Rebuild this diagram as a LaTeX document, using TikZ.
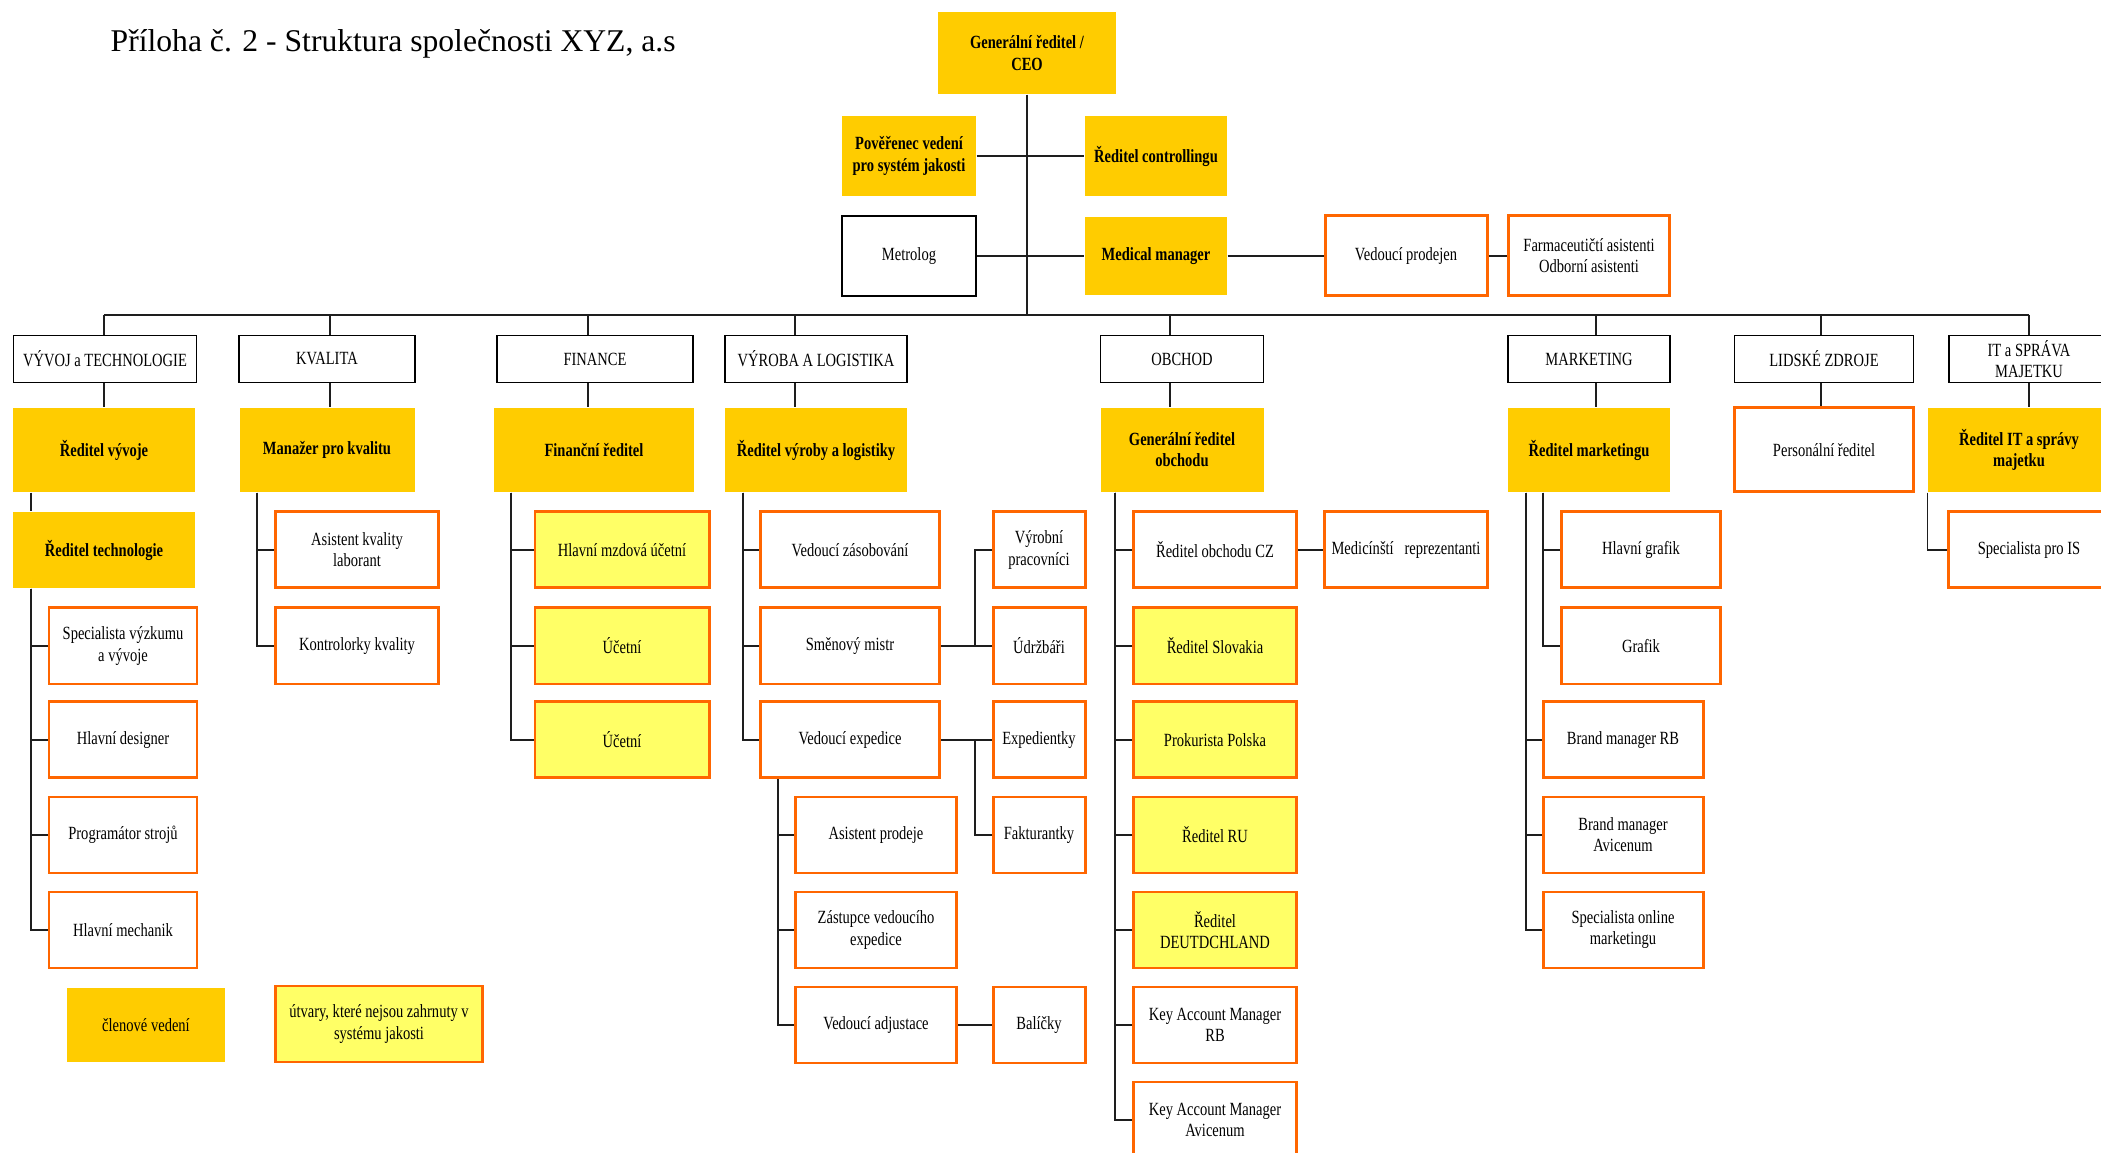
\documentclass[tikz,border=0pt]{standalone}
\usepackage{fontspec}
\setmainfont{Liberation Serif}
\newfontfamily\boxfont[FakeStretch=0.78]{Liberation Serif}
\usetikzlibrary{positioning}
\definecolor{leadFill}{RGB}{255,204,  0}
\definecolor{extFill}{RGB}{255,255,102}
\definecolor{staffEdge}{RGB}{255,102,  0}
\definecolor{lineBase}{RGB}{ 30, 30, 30}
\tikzset{
    box/.style={
        rectangle, align=center, inner sep=1pt,
        font=\boxfont\fontsize{5.3}{6}\selectfont,
        minimum height=7.6mm,
    },
    % gold = members of the board, yellow = outside the quality system
    lead/.style={
        box, fill=leadFill,
        font=\boxfont\bfseries\fontsize{5.3}{6}\selectfont,
    },
    staff/.style={
        box, draw=staffEdge, line width=0.85pt, fill=white,
    },
    ext/.style={
        staff, fill=extFill,
    },
    dept/.style={
        box, draw=black, line width=0.55pt, fill=white,
        minimum height=4.7mm,
    },
    conn/.style={
        draw=lineBase, line width=0.45pt,
    },
    title/.style={
        font=\fontsize{9}{11}\selectfont, anchor=west, inner sep=0pt,
    },
}

\begin{document}
\begin{tikzpicture}

\useasboundingbox (0,0) rectangle (21.01,-11.53);
\clip (0,0) rectangle (21.01,-11.53);

% ============================================================
%   Title
% ============================================================
\node[title] (ttl) at (1.10,-0.44) {Příloha č. 2 - Struktura společnosti XYZ, a.s};

% ============================================================
%   Top management
% ============================================================
\node[lead, minimum width=1.78cm, minimum height=8.2mm] (ceo) at (10.27,-0.53)
    {Generální ředitel /\\CEO};
\node[lead, minimum width=1.34cm, minimum height=8mm] (pov)  at ( 9.09,-1.56)
    {Pověřenec vedení\\pro systém jakosti};
\node[lead, minimum width=1.42cm, minimum height=8mm] (ctrl) at (11.56,-1.56)
    {Ředitel controllingu};
\node[dept, minimum width=1.34cm, minimum height=8mm] (metr) at ( 9.09,-2.56)
    {Metrolog};
\node[lead, minimum width=1.42cm, minimum height=7.8mm] (med) at (11.56,-2.56)
    {Medical manager};
\node[staff, minimum width=1.62cm, minimum height=8mm] (prod) at (14.06,-2.56)
    {Vedoucí prodejen};
\node[staff, minimum width=1.61cm, minimum height=8mm] (farm) at (15.89,-2.56)
    {Farmaceutičtí asistenti\\Odborní asistenti};

% ============================================================
%   Departments (row y = -3.59) and their heads (row y = -4.50)
% ============================================================
\node[dept, minimum width=1.83cm] (dvyv)  at ( 1.05,-3.59) {VÝVOJ a TECHNOLOGIE};
\node[dept, minimum width=1.76cm] (dkval) at ( 3.27,-3.59) {KVALITA};
\node[dept, minimum width=1.96cm] (dfin)  at ( 5.95,-3.59) {FINANCE};
\node[dept, minimum width=1.82cm] (dvyr)  at ( 8.16,-3.59) {VÝROBA A LOGISTIKA};
\node[dept, minimum width=1.63cm] (dobch) at (11.82,-3.59) {OBCHOD};
\node[dept, minimum width=1.62cm] (dmkt)  at (15.89,-3.59) {MARKETING};
\node[dept, minimum width=1.79cm] (dlid)  at (18.24,-3.59) {LIDSKÉ ZDROJE};
\node[dept, minimum width=1.60cm] (dit)   at (20.29,-3.59) {IT a SPRÁVA\\MAJETKU};

\node[lead,  minimum width=1.82cm, minimum height=8.4mm] (mvyv)  at ( 1.04,-4.50)
    {Ředitel vývoje};
\node[lead,  minimum width=1.75cm, minimum height=8.4mm] (mkval) at ( 3.27,-4.50)
    {Manažer pro kvalitu};
\node[lead,  minimum width=2.00cm, minimum height=8.4mm] (mfin)  at ( 5.94,-4.50)
    {Finanční ředitel};
\node[lead,  minimum width=1.82cm, minimum height=8.4mm] (mvyr)  at ( 8.16,-4.50)
    {Ředitel výroby a logistiky};
\node[lead,  minimum width=1.63cm, minimum height=8.4mm] (mobch) at (11.82,-4.50)
    {Generální ředitel\\obchodu};
\node[lead,  minimum width=1.62cm, minimum height=8.4mm] (mmkt)  at (15.89,-4.50)
    {Ředitel marketingu};
\node[staff, minimum width=1.79cm, minimum height=8.4mm] (mlid)  at (18.24,-4.50)
    {Personální ředitel};
\node[lead,  minimum width=1.82cm, minimum height=8.4mm] (mit)   at (20.19,-4.50)
    {Ředitel IT a správy\\majetku};

% ============================================================
%   Staff rows: A -5.50, B -6.46, C -7.40, D -8.35, E -9.30,
%   F -10.25, G -11.20
% ============================================================
% --- VÝVOJ a TECHNOLOGIE ------------------------------------
\node[lead,  minimum width=1.82cm] (rtech) at (1.04,-5.50) {Ředitel technologie};
\node[staff, minimum width=1.48cm] (spec)  at (1.23,-6.46) {Specialista výzkumu\\a vývoje};
\node[staff, minimum width=1.48cm] (hdes)  at (1.23,-7.40) {Hlavní designer};
\node[staff, minimum width=1.48cm] (prog)  at (1.23,-8.35) {Programátor strojů};
\node[staff, minimum width=1.48cm] (hmech) at (1.23,-9.30) {Hlavní mechanik};

% --- KVALITA -------------------------------------------------
\node[staff, minimum width=1.63cm] (askv)  at (3.57,-5.50) {Asistent kvality\\laborant};
\node[staff, minimum width=1.63cm] (kontr) at (3.57,-6.46) {Kontrolorky kvality};

% --- FINANCE -------------------------------------------------
\node[ext, minimum width=1.74cm] (hmu) at (6.22,-5.50) {Hlavní mzdová účetní};
\node[ext, minimum width=1.74cm] (uc1) at (6.22,-6.46) {Účetní};
\node[ext, minimum width=1.74cm] (uc2) at (6.22,-7.40) {Účetní};

% --- VÝROBA A LOGISTIKA --------------------------------------
\node[staff, minimum width=1.79cm] (vzas) at ( 8.50,-5.50) {Vedoucí zásobování};
\node[staff, minimum width=1.79cm] (smis) at ( 8.50,-6.46) {Směnový mistr};
\node[staff, minimum width=1.79cm] (vexp) at ( 8.50,-7.40) {Vedoucí expedice};
\node[staff, minimum width=0.92cm] (vypr) at (10.39,-5.50) {Výrobní\\pracovníci};
\node[staff, minimum width=0.92cm] (udrz) at (10.39,-6.46) {Údržbáři};
\node[staff, minimum width=0.92cm] (expd) at (10.39,-7.40) {Expedientky};
\node[staff, minimum width=0.92cm] (fakt) at (10.39,-8.35) {Fakturantky};
\node[staff, minimum width=1.61cm] (aspr) at ( 8.76,-8.35) {Asistent prodeje};
\node[staff, minimum width=1.61cm] (zast) at ( 8.76,-9.30) {Zástupce vedoucího\\expedice};
\node[staff, minimum width=1.61cm] (vadj) at ( 8.76,-10.25) {Vedoucí adjustace};
\node[staff, minimum width=0.92cm] (bal)  at (10.39,-10.25) {Balíčky};

% --- OBCHOD --------------------------------------------------
\node[staff, minimum width=1.63cm] (robcz)  at (12.15,-5.50) {Ředitel obchodu CZ};
\node[staff, minimum width=1.63cm] (medrep) at (14.06,-5.50) {Medicínští\ \ \ reprezentanti};
\node[ext,   minimum width=1.63cm] (rslov)  at (12.15,-6.46) {Ředitel Slovakia};
\node[ext,   minimum width=1.63cm] (prok)   at (12.15,-7.40) {Prokurista Polska};
\node[ext,   minimum width=1.63cm] (rru)    at (12.15,-8.35) {Ředitel RU};
\node[ext,   minimum width=1.63cm] (rde)    at (12.15,-9.30) {Ředitel\\DEUTDCHLAND};
\node[staff, minimum width=1.63cm] (kamrb)  at (12.15,-10.25) {Key Account Manager\\RB};
\node[staff, minimum width=1.63cm] (kamav)  at (12.15,-11.20) {Key Account Manager\\Avicenum};

% --- MARKETING -----------------------------------------------
\node[staff, minimum width=1.59cm] (hgraf) at (16.41,-5.50) {Hlavní grafik};
\node[staff, minimum width=1.59cm] (graf)  at (16.41,-6.46) {Grafik};
\node[staff, minimum width=1.60cm] (bmrb)  at (16.23,-7.40) {Brand manager RB};
\node[staff, minimum width=1.60cm] (bmav)  at (16.23,-8.35) {Brand manager\\Avicenum};
\node[staff, minimum width=1.60cm] (sonl)  at (16.23,-9.30) {Specialista online\\marketingu};

% --- IT a SPRÁVA MAJETKU -------------------------------------
\node[staff, minimum width=1.62cm] (spis) at (20.29,-5.50) {Specialista pro IS};

% ============================================================
%   Key (bottom-left)
% ============================================================
\node[lead, minimum width=1.58cm, minimum height=7.4mm,
      font=\boxfont\fontsize{5.3}{6}\selectfont] (leg1) at (1.46,-10.25)
    {členové vedení};
\node[ext, minimum width=2.07cm] (leg2) at (3.79,-10.24)
    {útvary, které nejsou zahrnuty v\\systému jakosti};

% ============================================================
%   Connectors
% ============================================================
% --- trunk and bus -------------------------------------------
\coordinate (bVyv)  at ( 1.04,-3.15);
\coordinate (bKval) at ( 3.30,-3.15);
\coordinate (bFin)  at ( 5.88,-3.15);
\coordinate (bVyr)  at ( 7.95,-3.15);
\coordinate (bObch) at (11.70,-3.15);
\coordinate (bMkt)  at (15.96,-3.15);
\coordinate (bLid)  at (18.21,-3.15);
\coordinate (bIt)   at (20.29,-3.15);

\draw[conn] (ceo.south) -- (ceo.south |- bVyv);
\draw[conn] (pov) -- (ctrl);
\draw[conn] (metr) -- (med);
\draw[conn] (med) -- (prod);
\draw[conn] (prod) -- (farm);
\draw[conn] (bVyv) -- (bIt);

\foreach \b/\d/\m in {bVyv/dvyv/mvyv, bKval/dkval/mkval, bFin/dfin/mfin,
                      bVyr/dvyr/mvyr, bObch/dobch/mobch, bMkt/dmkt/mmkt,
                      bLid/dlid/mlid, bIt/dit/mit} {
    \draw[conn] (\b) -- (\b |- \d.north);
    \draw[conn] (\b |- \d.south) -- (\b |- \m.north);
}

% --- spines down to the staff rows ---------------------------
\coordinate (sVyv)  at ( 0.31,0);
\coordinate (sKval) at ( 2.57,0);
\coordinate (sFin)  at ( 5.11,0);
\coordinate (sVyr)  at ( 7.43,0);
\coordinate (sDil)  at ( 9.75,0);
\coordinate (sExp)  at ( 7.78,0);
\coordinate (sObch) at (11.15,0);
\coordinate (sMkt)  at (15.26,0);
\coordinate (sGraf) at (15.43,0);

\draw[conn] (mvyv.south -| sVyv) -- (rtech.north -| sVyv);
\foreach \n in {spec, hdes, prog, hmech}
    \draw[conn] (rtech.south -| sVyv) |- (\n.west);
\foreach \n in {askv, kontr}
    \draw[conn] (mkval.south -| sKval) |- (\n.west);
\foreach \n in {hmu, uc1, uc2}
    \draw[conn] (mfin.south -| sFin) |- (\n.west);
\foreach \n in {vzas, smis, vexp}
    \draw[conn] (mvyr.south -| sVyr) |- (\n.west);

\draw[conn] (smis) -- (udrz);
\draw[conn] (smis.east -| sDil) |- (vypr.west);
\draw[conn] (vexp) -- (expd);
\draw[conn] (vexp.east -| sDil) |- (fakt.west);
\foreach \n in {aspr, zast, vadj}
    \draw[conn] (vexp.south -| sExp) |- (\n.west);
\draw[conn] (vadj) -- (bal);

\foreach \n in {robcz, rslov, prok, rru, rde, kamrb, kamav}
    \draw[conn] (mobch.south -| sObch) |- (\n.west);
\draw[conn] (robcz) -- (medrep);

\foreach \n in {hgraf, graf}
    \draw[conn] (mmkt.south -| sGraf) |- (\n.west);
\foreach \n in {bmrb, bmav, sonl}
    \draw[conn] (mmkt.south -| sMkt) |- (\n.west);

\draw[conn] (mit.south west) |- (spis.west);

\end{tikzpicture}
\end{document}
